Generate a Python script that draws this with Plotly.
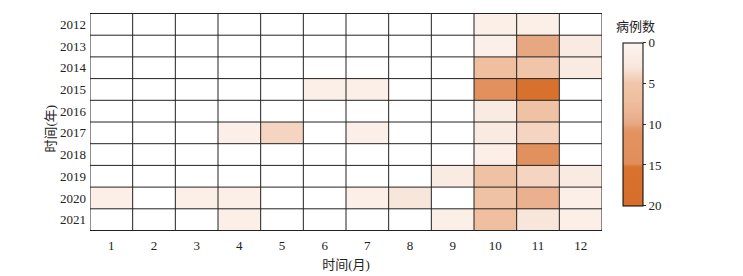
import plotly.graph_objects as go

months = [str(m) for m in range(1, 13)]
years = [str(y) for y in range(2012, 2022)]

# case counts (None = no cases)
N = None
y2012 = [N, N, N, N, N, N, N, N, N, 1, 1, N]
y2013 = [N, N, N, N, N, N, N, N, N, 1, 10, 2]
y2014 = [N, N, N, N, N, N, N, N, N, 7, 5, 2]
y2015 = [N, N, N, N, N, 1, 1, N, N, 12, 17, N]
y2016 = [N, N, N, N, N, N, N, N, N, 2, 6, N]
y2017 = [N, N, N, 1, 4, N, 1, N, N, 2, 4, N]
y2018 = [N, N, N, N, N, N, N, N, N, 1, 12, N]
y2019 = [N, N, N, N, N, N, N, N, 2, 6, 4, 2]
y2020 = [1, N, 1, 1, N, N, 1, 3, N, 6, 9, 1]
y2021 = [N, N, N, 1, N, N, N, N, 1, 7, 3, 1]
z = [y2012, y2013, y2014, y2015, y2016, y2017, y2018, y2019, y2020, y2021]

cbar_ticks = [0, 5, 10, 15, 20]
ZMAX = 20

colorscale = [
    [0.0, "#fcf4ef"],
    [0.15, "#f9e6db"],
    [0.21, "#f4d2bd"],
    [0.25, "#f0c5a9"],
    [0.35, "#efbf9f"],
    [0.45, "#ebb18f"],
    [0.5, "#e7a780"],
    [0.52, "#e49a6e"],
    [0.55, "#e3925f"],
    [0.74, "#e18e5b"],
    [0.76, "#d9722f"],
    [1.0, "#d76e2b"],
]

# colorbar runs 0 (top) -> 20 (bottom): plot flipped values with reversed scale
z_flip = [[None if v is None else ZMAX - v for v in row] for row in z]

FONT = "Liberation Serif, Noto Sans CJK SC, serif"

fig = go.Figure(go.Heatmap(
    z=z_flip, x=months, y=years, zmin=0, zmax=ZMAX,
    colorscale=colorscale, reversescale=True,
    customdata=z, hovertemplate="%{y} / %{x}: %{customdata}<extra></extra>",
    colorbar=dict(
        x=1.0404, xanchor="left", xpad=0, ypad=0,
        y=0.8636, yanchor="top", len=0.748, lenmode="fraction",
        thickness=20, outlinewidth=1, outlinecolor="black",
        tickvals=[ZMAX - t for t in cbar_ticks], ticktext=[str(t) for t in cbar_ticks],
        ticks="outside", ticklen=3, tickcolor="#333",
        tickfont=dict(size=13, family=FONT, color="#222"),
    ),
))

# colorbar title
fig.add_annotation(text="病例数", xref="paper", yref="paper", x=1.0664, y=0.8945,
                   xanchor="center", yanchor="bottom", showarrow=False,
                   font=dict(size=13, family=FONT, color="#222"))
# y-axis title
fig.add_annotation(text="时间(年)", xref="paper", yref="paper", x=-0.078, y=0.47,
                   xanchor="center", yanchor="middle", showarrow=False, textangle=-90,
                   font=dict(size=13, family=FONT, color="#222"))

# cell borders derived from the category counts
nx, ny = len(months), len(years)
for i in range(nx + 1):
    fig.add_shape(type="line", x0=i - 0.5, x1=i - 0.5, y0=-0.5, y1=ny - 0.5,
                  xref="x", yref="y", line=dict(color="#222", width=1), layer="above")
for j in range(ny + 1):
    fig.add_shape(type="line", x0=-0.5, x1=nx - 0.5, y0=j - 0.5, y1=j - 0.5,
                  xref="x", yref="y", line=dict(color="#222", width=1), layer="above")

fig.update_layout(
    width=743, height=276,
    margin=dict(l=90, r=141, t=13, b=45, autoexpand=False),
    plot_bgcolor="white", paper_bgcolor="white",
    font=dict(family=FONT, size=13, color="#222"),
    xaxis=dict(type="category", title=dict(text="时间(月)", standoff=7,
               font=dict(size=13)), showgrid=False, zeroline=False, automargin=False,
               ticks="", ticklabelstandoff=5, tickfont=dict(size=13), range=[-0.5, nx - 0.5]),
    yaxis=dict(type="category", autorange="reversed", automargin=False,
               ticklabelstandoff=3,
               showgrid=False, zeroline=False, ticks="", tickfont=dict(size=13)),
)

fig.write_html("out.html", config={"displayModeBar": False},
               post_script="document.body.style.margin='0';")
